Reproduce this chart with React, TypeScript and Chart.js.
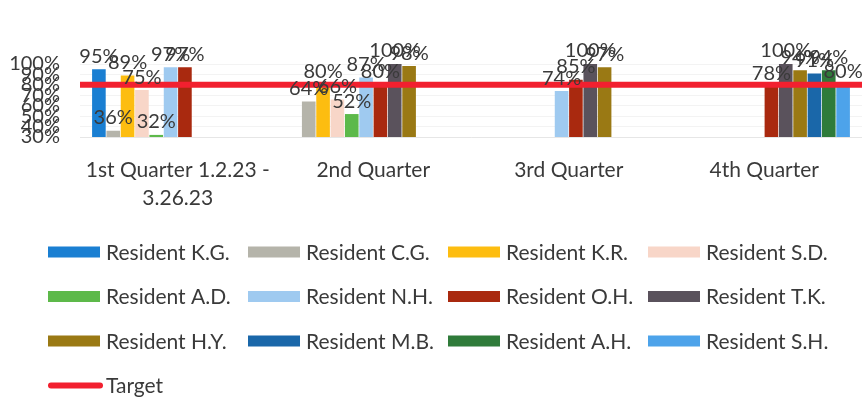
import React, { useEffect, useRef } from "react";
import { Chart, registerables } from "chart.js";

Chart.register(...registerables);

const categories: string[][] = [["1st Quarter 1.2.23 -", "3.26.23"], ["2nd Quarter"], ["3rd Quarter"], ["4th Quarter"]];

const residentNames = [
  "Resident K.G.", "Resident C.G.", "Resident K.R.", "Resident S.D.",
  "Resident A.D.", "Resident N.H.", "Resident O.H.", "Resident T.K.",
  "Resident H.Y.", "Resident M.B.", "Resident A.H.", "Resident S.H.",
];

const residentKG = [95, null, null, null];
const residentCG = [36, 64, null, null];
const residentKR = [89, 80, null, null];
const residentSD = [75, 66, null, null];
const residentAD = [32, 52, null, null];
const residentNH = [97, 87, 74, null];
const residentOH = [97, 80, 85, 78];
const residentTK = [null, 100, 100, 100];
const residentHY = [null, 98, 97, 94];
const residentMB = [null, null, null, 91];
const residentAH = [null, null, null, 94];
const residentSH = [null, null, null, 80];

const targetSeries = [80, 80, 80, 80];

const yTicks = [30, 40, 50, 60, 70, 80, 90, 100];

const residentColors = [
  "#1a7fd2", "#b5b4aa", "#fdbd10", "#f8d6c8",
  "#5db94a", "#9fcaf0", "#a9290f", "#5a525c",
  "#9a7914", "#1a67a9", "#2f7b3a", "#4da3ea",
];
const targetColor = "#f2202f";
const textColor = "#3a3a3a";
const FONT = "Lato, 'Open Sans', sans-serif";

const seriesValues = [
  residentKG, residentCG, residentKR, residentSD, residentAD, residentNH,
  residentOH, residentTK, residentHY, residentMB, residentAH, residentSH,
];

// Draws the target line across the whole plot at the y-scale pixel of its value,
// then the value labels above every bar.
const overlayPlugin = {
  id: "overlay",
  afterDatasetsDraw(chart: any) {
    const ctx = chart.ctx;
    const area = chart.chartArea;
    const yScale = chart.scales.y;
    ctx.save();
    chart.data.datasets.forEach((ds: any) => {
      if (ds.type !== "line") return;
      const y = yScale.getPixelForValue(ds.data[0]);
      ctx.strokeStyle = ds.borderColor;
      ctx.lineWidth = 6;
      ctx.lineCap = "butt";
      ctx.beginPath();
      ctx.moveTo(area.left, y);
      ctx.lineTo(area.right, y);
      ctx.stroke();
    });
    ctx.font = `20px ${FONT}`;
    ctx.fillStyle = textColor;
    ctx.textAlign = "center";
    ctx.textBaseline = "bottom";
    chart.data.datasets.forEach((ds: any, di: number) => {
      if (ds.type === "line") return;
      const meta = chart.getDatasetMeta(di);
      meta.data.forEach((el: any, i: number) => {
        const v = ds.data[i];
        if (v === null || v === undefined) return;
        ctx.fillText(`${v}%`, el.x, el.y - 3);
      });
    });
    ctx.restore();
  },
};

const gridLegendPlugin = {
  id: "gridLegend",
  afterDraw(chart: any) {
    const ctx = chart.ctx;
    const x0 = 48;
    const colW = 200;
    const y0 = 252;
    const rowH = 44.5;
    const sw = 52;
    ctx.save();
    ctx.font = `21px ${FONT}`;
    ctx.textBaseline = "middle";
    ctx.textAlign = "left";
    chart.data.datasets.forEach((ds: any, i: number) => {
      const col = i % 4;
      const row = Math.floor(i / 4);
      const x = x0 + col * colW;
      const y = y0 + row * rowH;
      if (ds.type === "line") {
        ctx.strokeStyle = ds.borderColor;
        ctx.lineWidth = 6;
        ctx.lineCap = "round";
        ctx.beginPath();
        ctx.moveTo(x + 3, y);
        ctx.lineTo(x + sw, y);
        ctx.stroke();
      } else {
        ctx.fillStyle = ds.backgroundColor;
        ctx.fillRect(x, y - 5.5, sw, 11);
      }
      ctx.fillStyle = textColor;
      ctx.fillText(ds.label, x + sw + 6, y + 1);
    });
    ctx.restore();
  },
};

export default function App() {
  const ref = useRef<HTMLCanvasElement | null>(null);
  useEffect(() => {
    if (!ref.current) return;
    const barSets = residentNames.map((name, i) => ({
      type: "bar" as const,
      label: name,
      data: seriesValues[i],
      backgroundColor: residentColors[i],
      categoryPercentage: 0.88,
      barPercentage: 0.95,
      order: 1,
    }));
    const chart = new Chart(ref.current, {
      type: "bar",
      data: {
        labels: categories,
        datasets: [
          ...barSets,
          {
            type: "line" as const,
            label: "Target",
            data: targetSeries,
            borderColor: targetColor,
            backgroundColor: targetColor,
            borderWidth: 6,
            showLine: false,
            pointRadius: 0,
            order: 0,
          } as any,
        ],
      },
      options: {
        animation: false,
        responsive: true,
        maintainAspectRatio: false,
        layout: { padding: { top: 64, left: 0, right: 0, bottom: 0 } },
        plugins: { legend: { display: false }, tooltip: { enabled: false } },
        scales: {
          x: {
            grid: { display: false, drawTicks: false },
            border: { display: true, color: "#e6e6e6" },
            ticks: {
              color: textColor,
              font: { family: FONT, size: 21, lineHeight: 1.35 },
              padding: 19,
              maxRotation: 0,
              autoSkip: false,
            },
            afterFit: (s: any) => { s.height = 406 - 137; },
          },
          y: {
            min: yTicks[0],
            max: yTicks[yTicks.length - 1],
            grid: { color: "#f3f3f3", drawTicks: false },
            border: { display: false },
            ticks: {
              stepSize: yTicks[1] - yTicks[0],
              autoSkip: false,
              color: textColor,
              font: { family: FONT, size: 20 },
              padding: 20,
              callback: (v: any) => `${v}%`,
            },
            afterFit: (s: any) => { s.width = 80; },
          },
        },
      },
      plugins: [overlayPlugin, gridLegendPlugin],
    } as any);
    return () => chart.destroy();
  }, []);
  return (
    <div style={{ position: "fixed", left: 0, top: 0, width: 862, height: 406, background: "#fff" }}>
      <canvas ref={ref} />
    </div>
  );
}
